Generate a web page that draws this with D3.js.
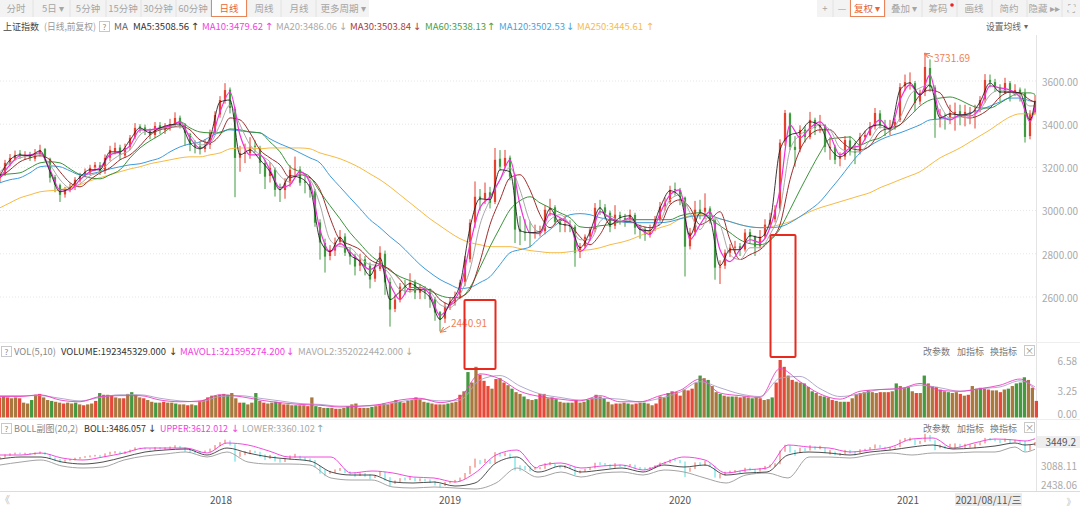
<!DOCTYPE html>
<html>
<head>
<meta charset="utf-8">
<script src="https://cdn.jsdelivr.net/npm/d3@7"></script>
<style>
    html, body { margin: 0; padding: 0; background: #fff; overflow: hidden; }
    text { font-family: "Noto Sans CJK SC", "Noto Sans", sans-serif; }
</style>
</head>
<body>
<svg id="chart" width="1080" height="507"></svg>
<script>
/* candles, one bar every five pixels of the original */
const candleOpen = [
    3150,3170,3218,3240,3265,3250,3262,3240,3262,3285, 3240,3155,3118,3075,3100,3108,3140,3165,3176,3200,
    3210,3185,3245,3275,3292,3255,3295,3340,3390,3385, 3370,3350,3395,3372,3385,3400,3430,3395,3355,3308,
    3298,3285,3305,3365,3445,3510,3560,3470,3245,3265, 3265,3300,3290,3220,3160,3190,3100,3095,3130,3190,
    3190,3135,3125,3090,2945,2850,2790,2815,2855,2880, 2808,2790,2745,2775,2745,2685,2730,2800,2670,2545,
    2590,2650,2645,2670,2620,2635,2625,2590,2530,2500, 2560,2580,2600,2670,2775,2945,3065,3055,3085,3040,
    3240,3205,3245,3160,2915,2900,2900,2895,2900,2905, 3005,3015,2950,2930,2935,2925,2810,2835,2880,2915,
    3015,3015,2990,2930,2980,2965,2960,2980,2925,2915, 2890,2915,2960,3020,3040,3100,3095,3060,2835,2900,
    3005,2995,3010,2955,2740,2745,2805,2830,2835,2820, 2900,2880,2835,2880,2935,2960,3010,3320,3450,3295,
    3285,3375,3340,3420,3385,3395,3295,3295,3240,3250, 3325,3275,3270,3340,3350,3390,3450,3395,3375,3385,
    3420,3575,3590,3590,3505,3550,3660,3570,3425,3430, 3430,3455,3460,3440,3455,3460,3470,3515,3605,3595,
    3570,3545,3590,3545,3560,3545,3345,3455
];
const candleHigh = [
    3178,3235,3262,3278,3280,3275,3272,3285,3305,3290, 3245,3165,3125,3110,3125,3155,3175,3195,3212,3225,
    3225,3260,3300,3315,3305,3310,3350,3405,3400,3398, 3380,3410,3410,3405,3425,3455,3440,3405,3360,3325,
    3320,3330,3375,3460,3530,3590,3570,3480,3300,3310, 3340,3325,3300,3235,3225,3200,3125,3150,3210,3250,
    3205,3165,3140,3100,2960,2870,2840,2875,2910,2895, 2830,2800,2800,2790,2760,2745,2835,2815,2690,2610,
    2665,2680,2710,2680,2660,2650,2640,2600,2535,2575, 2600,2625,2680,2790,2960,3135,3100,3130,3110,3290,
    3280,3281,3255,3170,2975,2960,2950,2935,2930,3025, 3055,3025,2965,2975,2955,2935,2850,2890,2925,3035,
    3050,3030,3000,3025,2995,2985,3005,2990,2935,2925, 2935,2975,3040,3060,3115,3130,3105,3065,2920,3045,
    3050,3080,3020,2965,2770,2820,2845,2860,2850,2915, 2915,2885,2910,2960,2990,3025,3330,3466,3455,3345,
    3395,3390,3457,3430,3443,3400,3340,3305,3270,3345, 3345,3315,3360,3370,3410,3475,3465,3420,3420,3425,
    3590,3630,3640,3600,3560,3731,3700,3580,3470,3450, 3490,3500,3490,3490,3480,3490,3530,3632,3630,3610,
    3585,3615,3600,3585,3570,3565,3465,3535
];
const candleLow = [
    3130,3160,3205,3232,3240,3235,3230,3228,3250,3230, 3130,3085,3040,3060,3085,3095,3130,3155,3165,3185,
    3165,3170,3230,3260,3235,3245,3280,3330,3360,3350, 3330,3335,3355,3355,3370,3390,3380,3300,3275,3265,
    3260,3270,3285,3350,3430,3495,3450,3062,3180,3220, 3240,3270,3170,3100,3130,3065,3040,3055,3110,3160,
    3115,3080,3060,2925,2773,2713,2770,2790,2840,2790, 2750,2700,2720,2700,2640,2670,2720,2610,2463,2530,
    2575,2610,2620,2590,2590,2590,2550,2490,2441,2480, 2540,2560,2590,2650,2760,2920,3000,3030,3010,3030,
    3185,3195,3140,2850,2840,2860,2830,2870,2880,2890, 2975,2935,2900,2900,2900,2740,2780,2825,2860,2900,
    2980,2960,2900,2915,2935,2925,2945,2890,2870,2860, 2875,2905,2950,3000,3030,3070,3025,2695,2820,2885,
    2960,2960,2940,2680,2660,2730,2785,2800,2790,2810, 2850,2790,2825,2870,2920,2945,3000,3300,3280,3203,
    3270,3315,3330,3350,3360,3270,3235,3215,3205,3235, 3255,3215,3260,3325,3345,3375,3380,3345,3350,3375,
    3410,3555,3560,3460,3490,3530,3550,3337,3385,3375, 3400,3370,3395,3390,3400,3380,3455,3500,3570,3550,
    3505,3540,3505,3530,3505,3315,3330,3445
];
const candleClose = [
    3166,3221,3244,3258,3258,3258,3244,3263,3281,3244, 3152,3120,3073,3096,3106,3143,3161,3180,3198,3212,
    3180,3244,3281,3290,3258,3290,3337,3383,3383,3369, 3350,3392,3374,3383,3401,3429,3397,3360,3304,3295,
    3286,3300,3360,3443,3512,3558,3475,3244,3267,3267, 3295,3295,3221,3157,3198,3096,3096,3129,3189,3194,
    3129,3129,3096,2944,2852,2787,2819,2852,2879,2805, 2787,2741,2773,2741,2681,2727,2805,2667,2542,2588,
    2648,2648,2667,2620,2634,2625,2588,2528,2496,2556, 2579,2597,2667,2773,2944,3064,3050,3082,3036,3235,
    3203,3244,3157,2912,2902,2898,2898,2898,2902,3004, 3013,2948,2935,2935,2925,2805,2833,2879,2912,3013,
    3013,2990,2925,2981,2967,2958,2981,2921,2912,2889, 2912,2958,3018,3036,3096,3096,3064,2833,2898,3004,
    2990,3013,2958,2736,2741,2805,2828,2833,2819,2898, 2879,2833,2879,2935,2958,3004,3314,3452,3295,3281,
    3374,3341,3420,3383,3397,3295,3295,3235,3249,3327, 3272,3267,3341,3350,3387,3452,3397,3374,3383,3411,
    3572,3595,3595,3498,3545,3665,3572,3420,3429,3429, 3452,3457,3443,3457,3457,3466,3512,3605,3595,3572,
    3545,3591,3545,3558,3549,3341,3452,3508
];

/* moving averages, one reading every two candles plus the last candle */
const ma5 = [
    3161,3235,3258,3254,3277,3180,3087,3106,3156,3189, 3189,3272,3272,3327,3383,3360,3383,3397,3401,3314,
    3286,3337,3503,3512,3258,3281,3235,3180,3096,3161, 3152,3106,2865,2810,2875,2796,2764,2699,2782,2588,
    2625,2662,2634,2597,2496,2574,2658,2921,3055,3050, 3189,3180,2907,2898,2902,3009,2939,2930,2828,2902,
    3013,2935,2967,2976,2912,2907,3013,3092,3064,2884, 2990,2958,2745,2819,2819,2884,2875,2949,3281,3350,
    3364,3411,3392,3290,3249,3281,3337,3387,3397,3378, 3558,3591,3535,3582,3429,3448,3443,3448,3503,3591,
    3549,3549,3545,3420,3508
];
const ma10 = [
    3152,3212,3254,3258,3267,3189,3096,3096,3143,3180, 3198,3258,3272,3300,3374,3374,3383,3392,3411,3337,
    3290,3318,3457,3549,3350,3258,3258,3189,3106,3120, 3180,3129,2912,2810,2847,2810,2764,2727,2750,2658,
    2588,2644,2644,2611,2514,2565,2634,2842,3013,3064, 3143,3235,3027,2898,2893,2986,2967,2935,2810,2865,
    2995,2967,2949,2967,2916,2889,2986,3073,3096,2865, 2935,2995,2819,2764,2819,2865,2852,2921,3096,3397,
    3337,3383,3411,3350,3258,3290,3300,3374,3420,3374, 3512,3582,3535,3628,3443,3420,3443,3438,3475,3577,
    3568,3558,3526,3411,3480
];
const ma20 = [
    3180,3221,3244,3254,3258,3212,3143,3106,3124,3161, 3180,3226,3258,3281,3350,3374,3378,3387,3387,3350,
    3304,3314,3397,3489,3397,3304,3258,3226,3161,3133, 3170,3143,3027,2865,2833,2828,2782,2750,2745,2704,
    2634,2625,2644,2625,2565,2551,2611,2727,2935,3050, 3143,3198,3096,2949,2902,2958,2981,2935,2865,2865,
    2949,2976,2949,2958,2925,2902,2949,3050,3073,2990, 2912,2981,2935,2796,2773,2828,2828,2889,3004,3281,
    3350,3374,3397,3374,3290,3272,3272,3327,3387,3374, 3429,3535,3568,3582,3489,3429,3434,3429,3466,3535,
    3558,3549,3526,3484,3486
];
const ma30 = [
    3152,3189,3226,3244,3254,3235,3180,3129,3110,3143, 3175,3198,3235,3258,3300,3350,3374,3383,3392,3374,
    3327,3314,3350,3429,3420,3360,3281,3244,3212,3152, 3166,3152,3096,2967,2865,2842,2819,2773,2750,2727,
    2681,2634,2634,2634,2588,2565,2597,2634,2764,2935, 3050,3152,3166,3096,2981,2921,2958,2935,2879,2842,
    2889,2958,2949,2949,2930,2921,2935,3027,3050,3013, 2935,2958,2995,2865,2773,2796,2819,2865,2935,3143,
    3281,3350,3374,3374,3327,3290,3281,3300,3364,3383, 3397,3466,3535,3558,3545,3466,3438,3429,3443,3475,
    3526,3549,3545,3512,3503
];
const ma60 = [
    3166,3170,3175,3198,3221,3226,3221,3193,3166,3152, 3147,3166,3189,3244,3290,3323,3350,3383,3411,3383,
    3364,3360,3360,3378,3374,3364,3360,3318,3272,3203, 3180,3156,3087,3023,2962,2898,2847,2796,2759,2722,
    2694,2676,2658,2630,2607,2597,2597,2644,2736,2833, 2921,3004,3046,3064,3036,3013,2990,2967,2925,2921,
    2930,2935,2949,2958,2958,2958,2958,2958,2976,2986, 2990,2962,2930,2898,2865,2847,2842,2861,2916,3004,
    3096,3184,3267,3332,3337,3341,3304,3323,3337,3369, 3397,3438,3484,3512,3521,3526,3512,3489,3475,3475,
    3498,3526,3545,3545,3538
];
const ma120 = [
    3129,3143,3152,3175,3203,3207,3203,3184,3166,3170, 3180,3193,3203,3212,3217,3230,3244,3272,3295,3309,
    3318,3341,3364,3374,3369,3364,3360,3332,3309,3290, 3267,3244,3221,3161,3110,3059,3009,2958,2921,2879,
    2842,2796,2750,2713,2681,2658,2639,2644,2667,2694, 2750,2805,2819,2833,2875,2912,2949,2981,2986,2981,
    2967,2958,2949,2944,2944,2944,2944,2949,2962,2972, 2976,2976,2962,2949,2935,2925,2921,2921,2925,2944,
    2972,3004,3041,3096,3152,3212,3267,3300,3327,3346, 3360,3378,3397,3420,3424,3429,3438,3452,3466,3484,
    3503,3521,3521,3508,3503
];
const ma250 = [
    3013,3036,3059,3073,3087,3092,3096,3110,3120,3138, 3152,3166,3180,3193,3203,3217,3226,3235,3244,3249,
    3249,3258,3267,3286,3290,3290,3286,3290,3290,3290, 3290,3286,3267,3254,3240,3221,3198,3170,3143,3110,
    3073,3036,2999,2962,2930,2898,2870,2852,2842,2833, 2833,2833,2824,2815,2810,2805,2805,2810,2815,2819,
    2828,2842,2852,2865,2884,2902,2921,2935,2962,2976, 2981,2976,2962,2949,2935,2925,2921,2925,2935,2949,
    2972,2995,3013,3027,3041,3055,3069,3083,3106,3124, 3143,3161,3180,3212,3244,3267,3290,3318,3346,3374,
    3406,3434,3448,3448,3445
];

/* volume in the axis unit, one bar every four pixels */
const volume = [
    2.3,2.4,2.3,2.2,2.3,2.2,1.7,1.6,2.0,2.6,2.7,2.3,2.0,1.9,1.8,1.7,1.6,1.7,1.6,1.7,1.5,1.4,1.5,1.6,1.9,
    2.8,2.6,2.6,2.5,2.3,2.2,2.2,2.7,2.9,2.6,2.3,2.2,2.0,1.8,1.7,1.7,1.8,1.7,1.7,1.6,1.5,1.5,1.4,1.5,1.4,
    1.9,2.0,2.3,2.5,2.5,2.6,2.7,2.6,2.8,2.2,1.7,1.7,1.5,1.7,2.8,1.9,1.7,1.6,1.7,1.8,1.7,1.5,1.5,1.4,1.4,
    1.4,1.4,1.3,2.3,1.3,1.2,1.1,1.1,1.1,1.0,1.0,1.1,1.3,1.5,1.6,1.1,1.1,1.1,1.2,1.3,1.5,1.6,1.5,1.7,2.0,
    1.8,1.7,1.9,2.0,2.3,2.1,1.8,1.7,1.6,1.5,1.5,1.5,1.6,1.7,1.8,2.6,3.0,5.2,4.0,5.8,4.9,4.2,3.6,3.3,4.4,
    4.5,4.0,3.7,3.3,2.9,2.7,2.4,2.1,2.0,2.1,2.7,2.7,2.2,2.3,2.1,1.8,1.7,1.7,1.7,2.0,1.7,1.8,2.0,2.2,2.6,
    2.4,2.2,1.8,1.5,1.6,1.6,1.7,1.6,1.5,1.6,1.7,1.7,1.6,1.4,1.6,2.4,2.3,2.8,3.0,2.9,2.5,3.2,3.1,3.3,4.0,4.8,
    4.5,4.3,3.6,2.9,2.7,2.5,2.4,2.4,2.4,2.3,2.4,2.3,2.2,2.3,2.2,2.0,2.1,2.3,4.0,6.58,5.8,4.8,4.3,4.1,4.0,
    3.9,3.5,3.0,2.8,2.5,2.4,2.3,2.0,1.9,1.8,1.8,1.8,2.2,2.7,2.8,2.9,3.1,2.9,2.8,2.9,2.9,2.9,3.0,3.9,3.6,3.4,3.5,
    3.0,2.8,2.8,4.8,3.9,3.6,3.5,3.2,3.0,2.9,2.8,2.9,2.7,2.5,2.6,3.6,3.3,3.4,3.3,3.2,3.1,3.1,2.9,3.2,3.3,
    3.6,3.9,4.0,4.6,4.3,3.4,1.9
];
/* r up, g down, b where the two colours run together in the picture */
const volumeKind = (
    "rbrbbrbbgbrbbgbbrbbgbrbbr" + "gbbrbbrbgbbrbbgbrbbgbbrbg" + "rbrbbrbgbbrgbbgbrbbgbrbbg" +
    "bbrbgbbgbrbbgbbrbbgbrbbrb" + "grbbrbbgbrbbgbbrbgbbrrrbr" + "brbgbbgbbgrrbbgbbgbrbbgrb" +
    "bgbbrbbgbrbgbbrrbgbrrbrrb" + "gbgbbgbbgbrbbgbrbbgrrrbrb" + "bgbgbbgbrbbgrbbrbgbbrbrbg" +
    "bbgbrbgbbrbbgbbrbrbbgbrbb" + "rbgbgggbbr"
).split("");
const mavol1 = [
    2.4,2.4,2.6,2.0,1.8,2.4,2.5,2.5,2.0,1.8,1.9,2.6,2.4,2.0,1.7,1.5,1.4,1.2,1.3,1.5,
    2.0,2.2,1.7,2.3,5.0,4.4,3.0,2.4,2.1,1.9,2.5,1.8,1.8,2.5,3.1,4.4,2.8,2.5,2.3,5.6,
    4.1,2.7,2.1,3.0,3.2,3.3,3.9,3.1,3.0,3.3,3.7,4.4,3.2
];
const mavol2 = [
    2.5,2.5,2.5,2.2,1.9,2.3,2.6,2.6,2.2,1.9,1.8,2.4,2.5,2.2,1.9,1.6,1.5,1.3,1.3,1.4,
    1.8,2.1,1.9,2.0,4.3,4.8,3.6,2.7,2.3,2.0,2.2,2.1,1.8,2.2,2.9,4.1,3.4,2.7,2.4,4.5,
    4.7,3.3,2.4,2.7,3.2,3.3,3.7,3.4,3.0,3.3,3.5,4.2,3.5
];

/* bollinger bands, read at these candle positions */
const bollBars = [
    0,4.2,8.2,12.4,16.6,20.6,24.8,29,33,37.2,41.4,45.4,49.6,53.8,57.8,62,66.2,70.2,74.4,78.6,
    82.6,86.8,91,95,99.2,103.4,107.4,107.8,112.2,116.2,120.4,124.4,128.6,132.8,136.8,141,145.2,149.2,153.4,157.6,
    161.8,165.8,170,174,178.2,182.4,186.6,190.6,194.8,199,203,205,207
];
const bollMid = [
    3126,3174,3174,3054,3006,3054,3174,3294,3342,3366,3222,3390,3270,3174,3126,3078,2814,2742,2742,2574,
    2550,2574,2478,2550,3030,3174,2814,2814,2958,2814,2862,2910,2814,2982,2934,2982,2742,2790,2814,3222,
    3294,3270,3222,3294,3342,3414,3462,3366,3390,3438,3510,3462,3486
];
const bollUpper = [
    3222,3222,3270,3150,3102,3174,3270,3390,3390,3390,3270,3510,3462,3318,3174,3174,3174,2790,2838,2790,
    2694,2670,2574,2790,3222,3342,2910,2958,3030,2910,2958,2982,2862,3030,3174,3102,2790,2862,2910,3462,
    3414,3390,3294,3342,3414,3606,3630,3390,3510,3606,3582,3558,3612
];
const bollLower = [
    2982,3054,3102,2958,2910,2934,3102,3198,3246,3294,3174,3294,3054,3006,3006,2982,2670,2622,2622,2454,
    2430,2454,2430,2406,2550,2910,2694,2694,2814,2694,2790,2814,2742,2862,2814,2670,2550,2742,2790,2670,
    3174,3174,3150,3222,3270,3222,3270,3270,3294,3294,3414,3294,3360
];

const priceTicks = [2600, 2800, 3000, 3200, 3400, 3600];
const volumeTicks = [0, 3.25, 6.58];
const bollTicks = [2438.06, 3088.11];
const yearBars = [44.2, 90, 136, 181.6];
const yearLabels = ["2018", "2019", "2020", "2021"];

const svg = d3.select("#chart");
const plotRight = 1036;
const grey = "#aaa";

/* scales */
const xBar = d3.scaleLinear().domain([0, 207]).range([0, 1035]);
const yPrice = d3.scaleLinear().domain([2600, 3600]).range([297, 81]);
const yVol = d3.scaleLinear().domain([0, 6.58]).range([417.5, 360]);
const yBoll = d3.scaleLinear().domain([3486, 2478]).range([444, 486]);
const xVol = d3.scaleBand().domain(d3.range(volume.length)).range([-2, 1038]).paddingInner(0.18);

/* the ma lists sit on every second candle, the last one on the final candle */
const maBars = d3.range(0, 208, 2).concat([207]);
/* the vol averages sit on every fourth candle, the last one on the final candle */
const mavolBars = d3.range(0, 208, 4).concat([207]);

svg.append("defs").append("clipPath").attr("id", "plot")
    .append("rect").attr("x", 0).attr("y", 30).attr("width", plotRight).attr("height", 470);
svg.select("defs").append("marker").attr("id", "tip")
    .attr("viewBox", "0 0 6 6").attr("refX", 0).attr("refY", 3)
    .attr("markerWidth", 6).attr("markerHeight", 6).attr("orient", "auto")
    .append("path").attr("d", "M6,0.5 L0,3 L6,5.5").attr("fill", "none").attr("stroke", "#ef7f55");

/* toolbar ------------------------------------------------------------- */
svg.append("rect").attr("width", 369).attr("height", 17).attr("fill", "#f3f3f3");
svg.append("rect").attr("x", 817).attr("width", 263).attr("height", 17).attr("fill", "#f3f3f3");

const leftButtons = [
    ["分时", 16], ["5日 ▾", 53], ["5分钟", 88], ["15分钟", 123], ["30分钟", 158], ["60分钟", 193],
    ["日线", 229], ["周线", 264], ["月线", 299], ["更多周期 ▾", 343]
];
const rightButtons = [
    ["+", 825], ["—", 842], ["复权 ▾", 867], ["叠加 ▾", 904], ["筹码", 938], ["画线", 974], ["简约", 1009], ["隐藏 ▸▸", 1044]
];
[33, 70, 106, 141, 176, 211, 247, 281, 316, 833, 850, 885, 922, 957, 992, 1027, 1062].forEach(x => {
    svg.append("line").attr("x1", x).attr("x2", x).attr("y1", 0).attr("y2", 17).attr("stroke", "#e2e2e2");
});
svg.append("rect").attr("x", 211.5).attr("y", -2).attr("width", 35).attr("height", 18.5)
    .attr("fill", "#fff").attr("stroke", "#e8855a");
svg.append("rect").attr("x", 850.5).attr("y", -2).attr("width", 34).attr("height", 18.5)
    .attr("fill", "#fff").attr("stroke", "#e8855a");
leftButtons.concat(rightButtons).forEach(b => {
    const active = b[0] === "日线" || b[0].startsWith("复权");
    svg.append("text").attr("x", b[1]).attr("y", 12).attr("text-anchor", "middle")
        .attr("font-size", 9.5).attr("fill", active ? "#e8652e" : "#a5a5a5").text(b[0]);
});
svg.append("circle").attr("cx", 952).attr("cy", 5).attr("r", 1.8).attr("fill", "#ee2222");
svg.append("text").attr("x", 1071).attr("y", 12).attr("text-anchor", "middle")
    .attr("font-size", 10).attr("fill", "#aaa").text("⛶");

/* grid and axes -------------------------------------------------------- */
svg.append("g").selectAll("line").data(priceTicks).join("line")
    .attr("x1", 0).attr("x2", plotRight)
    .attr("y1", d => yPrice(d)).attr("y2", d => yPrice(d))
    .attr("stroke", "#e6e6e6").attr("stroke-dasharray", "1,2");

svg.append("line").attr("x1", plotRight + 0.5).attr("x2", plotRight + 0.5)
    .attr("y1", 35).attr("y2", 491).attr("stroke", "#e4e4e4");
[342, 419, 491].forEach(y => {
    svg.append("line").attr("x1", 0).attr("x2", 1080).attr("y1", y + 0.5).attr("y2", y + 0.5)
        .attr("stroke", y === 491 ? "#dcdcdc" : "#eee");
});

function styleAxis(g) {
    g.select(".domain").remove();
    g.selectAll("text").attr("fill", grey).attr("font-size", 10);
}

svg.append("g").attr("transform", `translate(${plotRight + 4},1)`)
    .call(d3.axisRight(yPrice).tickValues(priceTicks).tickSize(0).tickPadding(2).tickFormat(d3.format(".2f")))
    .call(styleAxis);

svg.append("g").attr("transform", "translate(1077,0)")
    .call(d3.axisRight(yVol).tickValues(volumeTicks).tickSize(0).tickPadding(0).tickFormat(d3.format(".2f")))
    .call(styleAxis)
    .call(g => g.selectAll("text").attr("text-anchor", "end")
        .attr("dy", d => d === 0 ? "-0.05em" : (d === 6.58 ? "0.45em" : "0.5em")));

svg.append("g")
    .selectAll("text").data(bollTicks).join("text")
    .attr("x", 1077).attr("text-anchor", "end")
    .attr("y", d => yBoll(d) + (d > 3000 ? 9 : 1))
    .attr("fill", grey).attr("font-size", 10)
    .text(d => d.toFixed(2));

/* candles -------------------------------------------------------------- */
const candleColor = i => candleClose[i] >= candleOpen[i] ? "#e4412f" : "#3f9a3f";
const priceLayer = svg.append("g").attr("clip-path", "url(#plot)");

priceLayer.append("g").selectAll("line").data(candleClose).join("line")
    .attr("x1", (d, i) => xBar(i)).attr("x2", (d, i) => xBar(i))
    .attr("y1", (d, i) => yPrice(candleHigh[i])).attr("y2", (d, i) => yPrice(candleLow[i]))
    .attr("stroke", (d, i) => candleColor(i)).attr("stroke-width", 1);

priceLayer.append("g").selectAll("rect").data(candleClose).join("rect")
    .attr("x", (d, i) => xBar(i) - 1.1).attr("width", 2.2)
    .attr("y", (d, i) => yPrice(Math.max(candleOpen[i], d)))
    .attr("height", (d, i) => Math.max(1, Math.abs(yPrice(candleOpen[i]) - yPrice(d))))
    .attr("fill", (d, i) => candleColor(i));

/* moving averages */
const maLine = d3.line().x((d, i) => xBar(maBars[i])).y(d => yPrice(d)).curve(d3.curveMonotoneX);
[
    [ma250, "#f7bb45", 1],
    [ma120, "#3f9bdc", 1],
    [ma60, "#3b933b", 1],
    [ma30, "#9c2d2d", 1],
    [ma20, "#a8a8a8", 1],
    [ma10, "#f22fdc", 1.2],
    [ma5, "#222", 0.9]
].forEach(s => {
    priceLayer.append("path").attr("d", maLine(s[0])).attr("fill", "none")
        .attr("stroke", s[1]).attr("stroke-width", s[2]);
});

/* highest and lowest labels */
const noteColor = "#ef7f55";
function note(bar, value, x2, y2, label, lx, ly) {
    svg.append("line").attr("x1", xBar(bar)).attr("y1", yPrice(value) + 1).attr("x2", x2).attr("y2", y2)
        .attr("stroke", noteColor).attr("stroke-width", 1).attr("marker-start", "url(#tip)");
    svg.append("text").attr("x", lx).attr("y", ly).attr("font-size", 10).attr("fill", noteColor).text(label);
}
note(184.8, 3731.69, 933, 57, "3731.69", 934, 62);
note(88, 2440.91, 450, 326, "2440.91", 451, 327);

/* volume panel --------------------------------------------------------- */
const kindColor = { r: "#e8483a", g: "#45993f", b: "#a8783f" };
svg.append("g").selectAll("rect").data(volume).join("rect")
    .attr("x", (d, i) => xVol(i)).attr("width", xVol.bandwidth())
    .attr("y", d => yVol(d)).attr("height", d => yVol(0) - yVol(d))
    .attr("fill", (d, i) => kindColor[volumeKind[i]]);

const subVolLine = d3.line().x((d, i) => xBar(mavolBars[i])).y(d => yVol(d)).curve(d3.curveMonotoneX);
svg.append("path").attr("d", subVolLine(mavol2)).attr("fill", "none").attr("stroke", "#a9a0c8").attr("stroke-width", 0.9);
svg.append("path").attr("d", subVolLine(mavol1)).attr("fill", "none").attr("stroke", "#ec3fc4").attr("stroke-width", 0.9);

/* boll panel ----------------------------------------------------------- */
const bollLayer = svg.append("g").attr("clip-path", "url(#plot)");
bollLayer.append("g").selectAll("line").data(candleClose).join("line")
    .attr("x1", (d, i) => xBar(i)).attr("x2", (d, i) => xBar(i))
    .attr("y1", (d, i) => yBoll(candleHigh[i])).attr("y2", (d, i) => yBoll(candleLow[i]))
    .attr("stroke", (d, i) => d >= candleOpen[i] ? "#e4412f" : "#22d3d3").attr("stroke-width", 0.8);

const bollLine = d3.line().x((d, i) => xBar(bollBars[i])).y(d => yBoll(d)).curve(d3.curveMonotoneX);
[
    [bollLower, "#999", 0.9],
    [bollUpper, "#ee38d8", 0.9],
    [bollMid, "#222", 0.8]
].forEach(s => {
    bollLayer.append("path").attr("d", bollLine(s[0])).attr("fill", "none")
        .attr("stroke", s[1]).attr("stroke-width", s[2]);
});

svg.append("rect").attr("x", plotRight + 1).attr("y", 436).attr("width", 43).attr("height", 12).attr("fill", "#eee");
svg.append("text").attr("x", 1076).attr("y", 445.5).attr("text-anchor", "end")
    .attr("font-size", 10).attr("fill", "#555").text("3449.2");

/* year labels ---------------------------------------------------------- */
svg.append("g").selectAll("text").data(yearLabels).join("text")
    .attr("x", (d, i) => xBar(yearBars[i])).attr("y", 504).attr("text-anchor", "middle")
    .attr("font-size", 10).attr("fill", "#555").text(d => d);
svg.append("rect").attr("x", 955).attr("y", 493).attr("width", 67).attr("height", 13).attr("fill", "#ececec");
svg.append("text").attr("x", 988.5).attr("y", 503.5).attr("text-anchor", "middle")
    .attr("font-size", 10).attr("fill", "#555").text("2021/08/11/三");
svg.append("text").attr("x", 5).attr("y", 504).attr("text-anchor", "middle")
    .attr("font-size", 10).attr("fill", "#bbb").text("《");
svg.append("text").attr("x", 1071).attr("y", 505).attr("text-anchor", "middle")
    .attr("font-size", 9).attr("fill", "#bbb").text("》");

/* legends -------------------------------------------------------------- */
function headerText(x, y, label, color, width) {
    svg.append("text").attr("x", x).attr("y", y).attr("font-size", 9.5).attr("fill", color)
        .attr("textLength", width).attr("lengthAdjust", "spacingAndGlyphs").text(label);
}
function headerArrow(x, y, up, color) {
    svg.append("text").attr("x", x).attr("y", y).attr("text-anchor", "middle")
        .attr("font-size", 10).attr("fill", color).style("font-family", "DejaVu Sans")
        .text(up ? "↑" : "↓");
}
function helpBox(x, y) {
    svg.append("rect").attr("x", x + 0.5).attr("y", y + 0.5).attr("width", 10).attr("height", 10)
        .attr("fill", "#fff").attr("stroke", "#c8c8c8");
    svg.append("text").attr("x", x + 5.5).attr("y", y + 8.5).attr("text-anchor", "middle")
        .attr("font-size", 8).attr("fill", "#888").text("?");
}

headerText(3, 30, "上证指数", "#444", 36);
headerText(44, 30, "(日线,前复权)", "#999", 52);
helpBox(99, 21);
headerText(114, 30, "MA", "#666", 14);
headerText(133, 30, "MA5:3508.56", "#333", 56);
headerArrow(195, 30, true, "#333");
headerText(202, 30, "MA10:3479.62", "#f23fe0", 61);
headerArrow(269, 30, true, "#f23fe0");
headerText(276, 30, "MA20:3486.06", "#aaa", 61);
headerArrow(343, 30, false, "#aaa");
headerText(350, 30, "MA30:3503.84", "#a83a3a", 61);
headerArrow(417, 30, false, "#a83a3a");
headerText(425, 30, "MA60:3538.13", "#4a9f4a", 61);
headerArrow(491, 30, true, "#4a9f4a");
headerText(499, 30, "MA120:3502.53", "#4aa2dc", 66);
headerArrow(570, 30, false, "#4aa2dc");
headerText(577, 30, "MA250:3445.61", "#f5bc50", 66);
headerArrow(650, 30, true, "#f5bc50");
headerText(986, 30, "设置均线", "#666", 35);
svg.append("text").attr("x", 1026).attr("y", 29).attr("text-anchor", "middle").attr("font-size", 8).attr("fill", "#666").text("▾");

helpBox(1, 346);
headerText(14, 355, "VOL(5,10)", "#888", 42);
headerText(61, 355, "VOLUME:192345329.000", "#333", 105);
headerArrow(173, 355, false, "#333");
headerText(180, 355, "MAVOL1:321595274.200", "#f23fe0", 105);
headerArrow(290, 355, false, "#f23fe0");
headerText(298, 355, "MAVOL2:352022442.000", "#aaa", 105);
headerArrow(409, 355, false, "#aaa");

helpBox(1, 423);
headerText(14, 432, "BOLL副图(20,2)", "#888", 64);
headerText(84, 432, "BOLL:3486.057", "#333", 62);
headerArrow(152, 432, false, "#333");
headerText(160, 432, "UPPER:3612.012", "#f23fe0", 68);
headerArrow(235, 432, false, "#f23fe0");
headerText(242, 432, "LOWER:3360.102", "#aaa", 73);
headerArrow(320, 432, true, "#8aa");

[355, 432].forEach(y => {
    headerText(923, y, "改参数", "#777", 27);
    headerText(957, y, "加指标", "#777", 27);
    headerText(990, y, "换指标", "#777", 27);
    svg.append("rect").attr("x", 1024.5).attr("y", y - 9.5).attr("width", 10).attr("height", 10)
        .attr("fill", "#fff").attr("stroke", "#c8c8c8");
    svg.append("text").attr("x", 1029.5).attr("y", y - 1).attr("text-anchor", "middle")
        .attr("font-size", 9).attr("fill", "#888").text("×");
});

/* the two red boxes drawn over the screenshot */
[[464.5, 300, 31, 69], [770.5, 235, 25, 122]].forEach(b => {
    svg.append("rect").attr("x", b[0]).attr("y", b[1]).attr("width", b[2]).attr("height", b[3])
        .attr("rx", 1).attr("fill", "none").attr("stroke", "#e82a1e").attr("stroke-width", 2);
});
</script>
</body>
</html>
